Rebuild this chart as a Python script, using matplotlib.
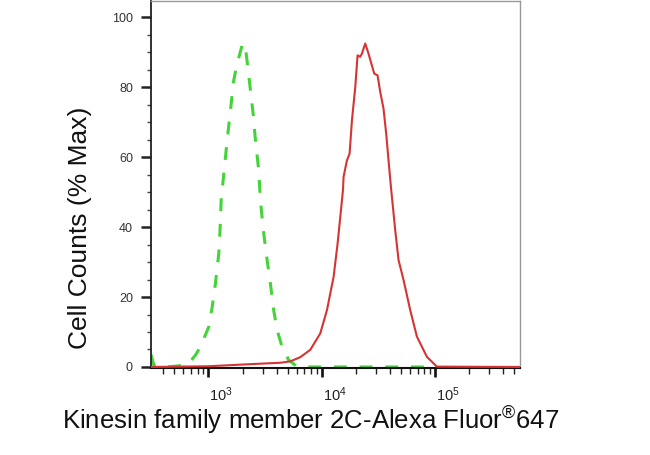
import matplotlib
matplotlib.use("Agg")
import matplotlib.pyplot as plt
from matplotlib.ticker import LogLocator, MultipleLocator, LogFormatterSciNotation, NullFormatter
from matplotlib.transforms import ScaledTranslation

plt.rcParams['font.family'] = ['Liberation Sans', 'DejaVu Sans']
plt.rcParams['mathtext.fontset'] = 'custom'
plt.rcParams['mathtext.rm'] = 'Liberation Sans'
plt.rcParams['mathtext.it'] = 'Liberation Sans:italic'
plt.rcParams['mathtext.bf'] = 'Liberation Sans:bold'

# Isotype control (green dashed)
ctrl_x = [312, 330, 360, 420, 500, 627, 670, 768, 851, 1006, 1079, 1152, 1233, 1260, 1294,
          1384, 1462, 1563, 1671, 1791, 1982, 2033, 2117, 2311, 2476, 2595, 2774, 2871,
          3071, 3290, 3516, 3759, 4027, 4456, 5096, 6039, 8000, 20000, 50000, 100000]
ctrl_y = [3.5, 0.4, 0.0, 0.0, 0.2, 0.5, 1.0, 3.4, 5.8, 11.5, 17.2, 23.9, 32.5, 38.0, 47.7,
          57.2, 64.9, 73.4, 82.0, 86.8, 92.0, 92.6, 91.5, 81.0, 72.5, 64.9, 56.3, 47.7,
          38.2, 30.6, 23.9, 16.3, 10.6, 5.8, 2.0, 0.1, 0.0, 0.0, 0.0, 0.0]

# Kinesin family member 2C stained sample (red)
samp_x = [312, 1000, 2343, 4310, 5270, 6460, 7910, 9690, 11110, 12710, 13780, 14760, 15370,
          15560, 16670, 17580, 18450, 19730, 20670, 21830, 22590, 24160, 25830, 27100,
          29010, 31030, 32750, 35020, 36970, 38780, 40710, 44440, 47520, 52600, 60220,
          69000, 84550, 103500, 555000]
samp_y = [0.0, 0.2, 0.8, 1.2, 1.6, 2.8, 4.9, 9.6, 16.3, 25.8, 35.3, 44.9, 50.6,
          54.4, 59.1, 61.0, 70.6, 80.0, 89.1, 88.7, 89.6, 92.5, 89.6, 87.2,
          83.9, 83.4, 78.7, 73.9, 66.8, 59.1, 51.5, 39.1, 30.6, 24.9, 16.3,
          8.7, 2.9, 0.1, 0.0]

y_ticks = [0, 20, 40, 60, 80, 100]
x_label = "Kinesin family member 2C-Alexa Fluor$^{\\circledR}$647"
y_label = "Cell Counts (% Max)"

fig = plt.figure(figsize=(6.5, 4.55), dpi=100)
ax = fig.add_axes([151/650, 1 - 368/455, 368.5/650, 367.5/455])

ax.plot(samp_x, samp_y, color='#d63434', lw=1.5, zorder=3)
ax.plot(ctrl_x, ctrl_y, color='#44d43a', lw=2.2, dashes=(4.2, 4.2), zorder=2)

ax.set_xscale('log')
ax.set_xlim(311, 5.55e5)
ax.set_ylim(-0.3, 104.8)

ax.xaxis.set_major_locator(LogLocator(base=10, numticks=10))
ax.xaxis.set_major_formatter(LogFormatterSciNotation())
ax.xaxis.set_minor_locator(LogLocator(base=10, subs=range(2, 10), numticks=20))
ax.xaxis.set_minor_formatter(NullFormatter())
ax.set_yticks(y_ticks)
ax.yaxis.set_minor_locator(MultipleLocator(5))

ax.tick_params(axis='x', which='major', direction='out', length=6.5, width=1.9, color='#111',
               labelsize=10.5, pad=6, labelcolor='#222')
ax.tick_params(axis='x', which='minor', direction='out', length=4.3, width=1.0, color='#222')
ax.tick_params(axis='y', which='major', direction='out', length=7, width=1.8, color='#222',
               labelsize=9, pad=6, labelcolor='#333')
ax.tick_params(axis='y', which='minor', direction='out', length=3, width=1.0, color='#444')

for lab in ax.get_xticklabels():
    lab.set_horizontalalignment('left')
    lab.set_transform(lab.get_transform() + ScaledTranslation(1/100, 0, fig.dpi_scale_trans))

for s in ['top', 'right']:
    ax.spines[s].set_color('#999999')
    ax.spines[s].set_linewidth(1.0)
ax.spines['left'].set_color('#222')
ax.spines['left'].set_linewidth(1.3)
ax.spines['bottom'].set_color('#111')
ax.spines['bottom'].set_linewidth(1.5)

ax.set_ylabel(y_label, fontsize=19, color='#111')
ax.yaxis.set_label_coords(-0.16, 0.382)
ax.set_xlabel(x_label, fontsize=18.5, color='#111')
ax.xaxis.set_label_coords(0.432, -0.10)

fig.savefig('out.png', dpi=100)
